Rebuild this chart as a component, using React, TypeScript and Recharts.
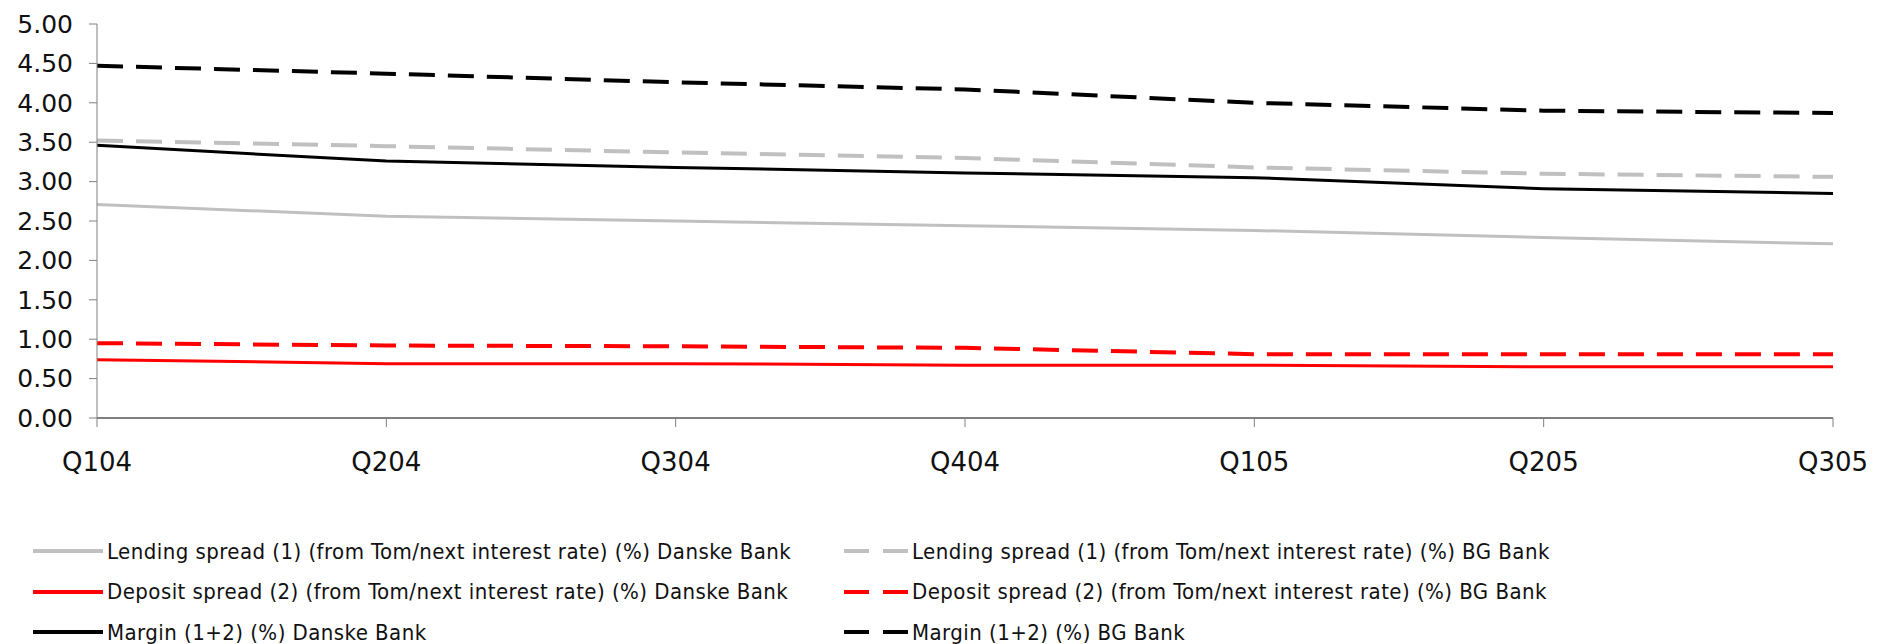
import { LineChart, Line, XAxis, YAxis } from 'recharts';

const quarters = ['Q104', 'Q204', 'Q304', 'Q404', 'Q105', 'Q205', 'Q305'];
const lendingDanske = [2.71, 2.56, 2.50, 2.44, 2.38, 2.29, 2.21];
const lendingBG = [3.52, 3.45, 3.37, 3.30, 3.18, 3.10, 3.06];
const depositDanske = [0.74, 0.69, 0.69, 0.67, 0.67, 0.65, 0.65];
const depositBG = [0.95, 0.92, 0.91, 0.89, 0.81, 0.81, 0.81];
const marginDanske = [3.46, 3.26, 3.18, 3.11, 3.05, 2.91, 2.85];
const marginBG = [4.47, 4.37, 4.26, 4.17, 4.00, 3.90, 3.87];
const yTicks = [0, 0.5, 1, 1.5, 2, 2.5, 3, 3.5, 4, 4.5, 5];

const series = [
  { key: 'lendingDanske', name: 'Lending spread (1) (from Tom/next interest rate) (%) Danske Bank', color: '#c0c0c0', dashed: false, values: lendingDanske },
  { key: 'lendingBG', name: 'Lending spread (1) (from Tom/next interest rate) (%) BG Bank', color: '#c0c0c0', dashed: true, values: lendingBG },
  { key: 'depositDanske', name: 'Deposit spread (2) (from Tom/next interest rate) (%) Danske Bank', color: '#ff0000', dashed: false, values: depositDanske },
  { key: 'depositBG', name: 'Deposit spread (2) (from Tom/next interest rate) (%) BG Bank', color: '#ff0000', dashed: true, values: depositBG },
  { key: 'marginDanske', name: 'Margin (1+2) (%) Danske Bank', color: '#000000', dashed: false, values: marginDanske },
  { key: 'marginBG', name: 'Margin (1+2) (%) BG Bank', color: '#000000', dashed: true, values: marginBG },
];

const data = quarters.map((q, i) => {
  const row: any = { q };
  series.forEach((s) => { row[s.key] = s.values[i]; });
  return row;
});

const tickFont = { fontFamily: 'DejaVu Sans', fill: '#111' };

export default function App() {
  return (
    <div style={{ position: 'absolute', left: 0, top: 0, width: 1877, height: 644, background: '#fff' }}>
      <LineChart width={1877} height={644} data={data} margin={{ top: 24, right: 44, left: 0, bottom: 166 }}>
        <XAxis
          dataKey="q"
          height={60}
          tickSize={9}
          tickMargin={26}
          axisLine={{ stroke: '#000' }}
          tickLine={{ stroke: '#808080' }}
          tick={{ ...tickFont, fontSize: 26 }}
        />
        <YAxis
          width={97}
          domain={[0, 5]}
          ticks={yTicks}
          interval={0}
          tickSize={8}
          tickMargin={16}
          tickFormatter={(v) => Number(v).toFixed(2)}
          axisLine={{ stroke: '#808080' }}
          tickLine={{ stroke: '#808080' }}
          tick={{ ...tickFont, fontSize: 25 }}
        />
        {series.map((s) => (
          <Line
            key={s.key}
            dataKey={s.key}
            name={s.name}
            type="linear"
            stroke={s.color}
            strokeWidth={s.dashed ? 4 : 3}
            strokeDasharray={s.dashed ? '26 13' : undefined}
            dot={false}
            activeDot={false}
            isAnimationActive={false}
          />
        ))}
      </LineChart>
      <div
        style={{
          position: 'absolute', left: 33, top: 531, width: 1800,
          display: 'grid', gridTemplateColumns: '805px 1fr', gridAutoRows: '40.5px',
          fontFamily: 'DejaVu Sans Condensed', fontSize: 22, letterSpacing: 0.45, color: '#111',
        }}
      >
        {series.map((s) => (
          <div key={s.key} style={{ display: 'flex', alignItems: 'center', whiteSpace: 'nowrap' }}>
            <svg width={70} height={10} style={{ marginRight: 4 }}>
              <line
                x1={s.dashed ? 6 : 0}
                x2={70}
                y1={5}
                y2={5}
                stroke={s.color}
                strokeWidth={4}
                strokeDasharray={s.dashed ? '25 14' : undefined}
              />
            </svg>
            <span>{s.name}</span>
          </div>
        ))}
      </div>
    </div>
  );
}
